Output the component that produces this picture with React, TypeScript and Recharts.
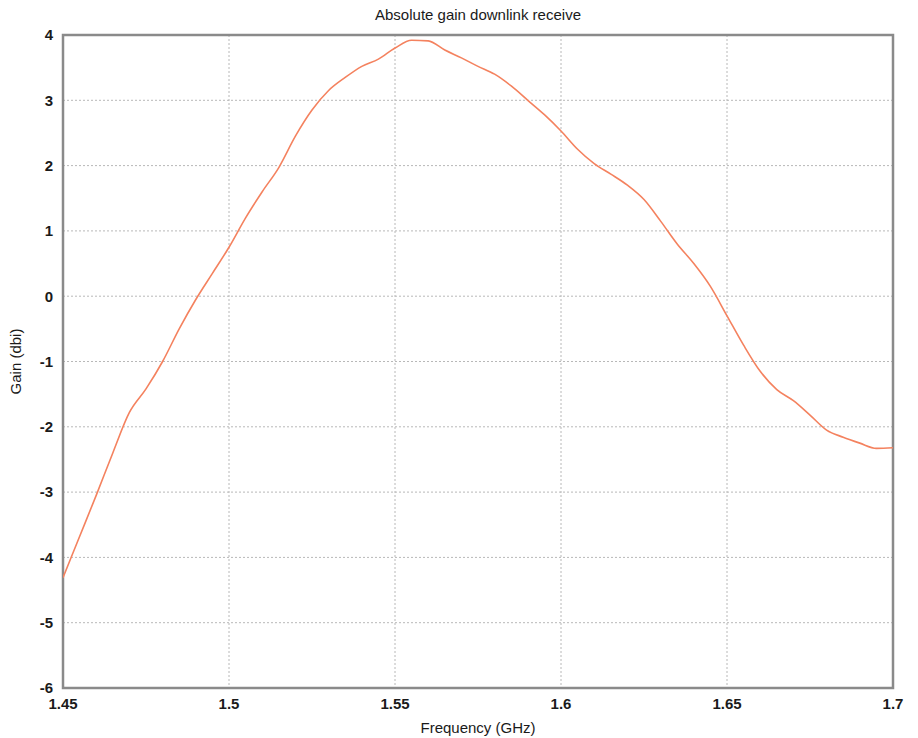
import { LineChart, Line, XAxis, YAxis, CartesianGrid, ReferenceArea } from 'recharts'

// frequency samples (GHz) and the gain at each one
const frequency = [
  1.45, 1.455, 1.46, 1.465, 1.47, 1.475, 1.48, 1.485, 1.49, 1.495,
  1.5, 1.505, 1.51, 1.515, 1.52, 1.525, 1.53, 1.535, 1.54, 1.545,
  1.55, 1.555, 1.56, 1.565, 1.57, 1.575, 1.58, 1.585, 1.59, 1.595,
  1.6, 1.605, 1.61, 1.615, 1.62, 1.625, 1.63, 1.635, 1.64, 1.645,
  1.65, 1.655, 1.66, 1.665, 1.67, 1.675, 1.68, 1.685, 1.69, 1.695, 1.7,
]
const gain = [
  -4.31, -3.68, -3.05, -2.4, -1.78, -1.42, -1.0, -0.5, -0.05, 0.35,
  0.75, 1.2, 1.6, 1.97, 2.45, 2.85, 3.15, 3.35, 3.52, 3.63,
  3.8, 3.92, 3.91, 3.77, 3.65, 3.52, 3.4, 3.22, 3.0, 2.78,
  2.53, 2.25, 2.03, 1.87, 1.7, 1.48, 1.15, 0.8, 0.5, 0.15,
  -0.3, -0.75, -1.15, -1.43, -1.6, -1.82, -2.05, -2.16, -2.25, -2.33, -2.32,
]

const xTicks = [1.45, 1.5, 1.55, 1.6, 1.65, 1.7]
const yTicks = [-6, -5, -4, -3, -2, -1, 0, 1, 2, 3, 4]

const chartData = frequency.map((f, i) => ({ f, g: gain[i] }))

const font = '"Liberation Sans", Arial, sans-serif'
const tickStyle = { fill: '#1a1a1a', fontSize: 15, fontWeight: 600, fontFamily: font }

export default function App() {
  return (
    <div style={{ position: 'absolute', left: 0, top: 0, width: 918, height: 738, background: '#fff' }}>
      <div style={{ position: 'absolute', top: 6, left: 63, width: 830, textAlign: 'center', fontFamily: font, fontSize: 15, color: '#1a1a1a' }}>
        Absolute gain downlink receive
      </div>
      <LineChart width={918} height={738} data={chartData} margin={{ top: 35, right: 25, bottom: 20, left: 18 }}>
        <CartesianGrid stroke="#b8b8b8" strokeDasharray="2 2" />
        <XAxis
          dataKey="f"
          type="number"
          domain={[1.45, 1.7]}
          ticks={xTicks}
          allowDataOverflow
          axisLine={false}
          tickLine={false}
          tick={tickStyle}
          height={30}
          tickMargin={4}
          label={{ value: 'Frequency (GHz)', position: 'insideBottom', offset: -15, fill: '#1a1a1a', fontSize: 15, fontFamily: font }}
        />
        <YAxis
          type="number"
          domain={[-6, 4]}
          ticks={yTicks}
          allowDataOverflow
          axisLine={false}
          tickLine={false}
          tick={tickStyle}
          width={45}
          tickMargin={4}
          label={{ value: 'Gain (dbi)', angle: -90, position: 'insideLeft', offset: 0, dx: -2, fill: '#1a1a1a', fontSize: 15, fontFamily: font, style: { textAnchor: 'middle' } }}
        />
        <ReferenceArea x1={1.45} x2={1.7} y1={-6} y2={4} fill="none" stroke="#8a8a8a" strokeWidth={2.5} ifOverflow="visible" />
        <Line
          type="monotone"
          dataKey="g"
          stroke="#f4825f"
          strokeWidth={1.6}
          dot={false}
          isAnimationActive={false}
        />
      </LineChart>
    </div>
  )
}
